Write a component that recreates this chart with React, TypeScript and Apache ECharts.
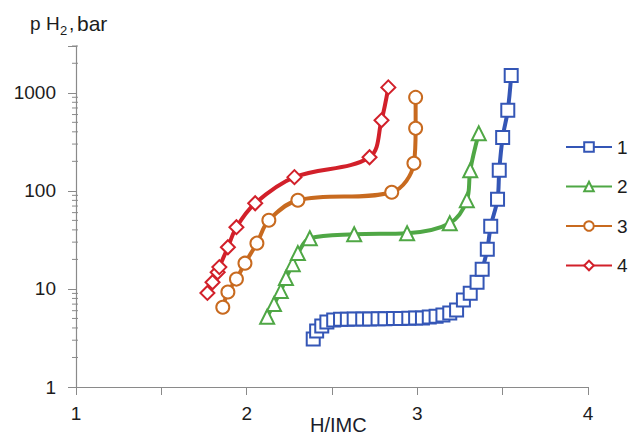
import React, { useEffect, useRef } from "react";
import * as echarts from "echarts";

const seriesNames = ["1", "2", "3", "4"];
const seriesColors = ["#3456b6", "#4fa745", "#c86a1f", "#d2202a"];
const seriesSymbols = ["rect", "triangle", "circle", "diamond"];

const s1X = [2.39, 2.41, 2.44, 2.47, 2.51, 2.55, 2.59, 2.63, 2.68, 2.72, 2.77, 2.81, 2.86, 2.9, 2.95, 2.99, 3.03, 3.07, 3.11, 3.15, 3.19, 3.23, 3.27, 3.31, 3.35, 3.38, 3.41, 3.43, 3.47, 3.48, 3.5, 3.53, 3.55];
const s1Y = [3.08, 3.72, 4.18, 4.59, 4.81, 4.9, 4.92, 4.93, 4.94, 4.95, 4.96, 4.97, 4.99, 5.0, 5.02, 5.04, 5.06, 5.16, 5.28, 5.41, 5.67, 6.08, 7.69, 9.06, 11.7, 15.9, 25.4, 43.6, 82.1, 162, 351, 662, 1504];

const s2X = [2.12, 2.16, 2.2, 2.23, 2.27, 2.3, 2.37, 2.63, 2.94, 3.19, 3.29, 3.31, 3.36];
const s2Y = [5.2, 7.0, 9.5, 12.9, 17.9, 23.2, 32.9, 36.1, 37.0, 46.8, 80, 162, 386];

const s3X = [1.86, 1.89, 1.94, 1.99, 2.06, 2.13, 2.3, 2.85, 2.98, 2.99, 2.99];
const s3Y = [6.5, 9.3, 12.6, 18.3, 29.3, 50.2, 80.2, 96.8, 191, 434, 898];

const s4X = [1.77, 1.8, 1.83, 1.84, 1.89, 1.94, 2.05, 2.28, 2.72, 2.79, 2.83];
const s4Y = [9.1, 11.7, 14.8, 16.7, 26.6, 42.6, 74.8, 138, 220, 524, 1135];

const xTickLabels = [1, 2, 3, 4];
const yTickLabels = [1, 10, 100, 1000];
const yMinorTicks = [2, 3, 4, 5, 6, 7, 8, 9, 20, 30, 40, 50, 60, 70, 80, 90, 200, 300, 400, 500, 600, 700, 800, 900, 2000, 3000];

const FONT = "'Liberation Sans', Arial, sans-serif";
const AXIS_COLOR = "#8a8a8a";
const TEXT_COLOR = "#1c1c1c";

function zip(xs: number[], ys: number[]) {
  return xs.map((x, i) => [x, ys[i]]);
}

export default function App() {
  const ref = useRef<HTMLDivElement>(null);
  useEffect(() => {
    const chart = echarts.init(ref.current!, null, { renderer: "svg" });
    const allX = [s1X, s2X, s3X, s4X];
    const allY = [s1Y, s2Y, s3Y, s4Y];
    const symbolSizes = [13, 14, 13, 14];
    const lineSeries = seriesNames.map((name, i) => ({
      name,
      type: "line",
      data: zip(allX[i], allY[i]),
      smooth: 0.35,
      symbol: seriesSymbols[i],
      symbolSize: symbolSizes[i],
      showAllSymbol: true,
      lineStyle: { color: seriesColors[i], width: 4 },
      itemStyle: { color: "#ffffff", borderColor: seriesColors[i], borderWidth: 2 },
      emphasis: { disabled: true },
      z: 3 + i,
    }));
    const titleStyle = { fontSize: 19, fontFamily: FONT, fill: TEXT_COLOR };
    chart.setOption({
      animation: false,
      backgroundColor: "#ffffff",
      grid: { left: 76, right: 45, top: 46, bottom: 49 },
      xAxis: {
        type: "value",
        min: 1,
        max: 4,
        interval: 0.5,
        axisLine: { show: true, lineStyle: { color: AXIS_COLOR, width: 1.2 } },
        axisTick: { show: true, inside: false, length: 8, lineStyle: { color: AXIS_COLOR } },
        splitLine: { show: false },
        axisLabel: {
          margin: 17,
          fontSize: 19,
          fontFamily: FONT,
          color: TEXT_COLOR,
          formatter: (v: number) => (xTickLabels.some((t) => Math.abs(t - v) < 1e-6) ? String(Math.round(v)) : ""),
        },
      },
      yAxis: {
        type: "log",
        logBase: 10,
        min: 1,
        max: 3000,
        axisLine: { show: true, lineStyle: { color: AXIS_COLOR, width: 1.2 } },
        axisTick: { show: true, inside: false, length: 8, lineStyle: { color: AXIS_COLOR } },
        splitLine: { show: false },
        axisLabel: {
          margin: 20,
          fontSize: 19,
          fontFamily: FONT,
          color: TEXT_COLOR,
          formatter: (v: number) => {
            const t = yTickLabels.find((k) => Math.abs(k - v) / k < 1e-6);
            return t !== undefined ? String(t) : "";
          },
        },
      },
      legend: {
        orient: "vertical",
        left: 565,
        top: 137,
        padding: 0,
        itemWidth: 46,
        itemHeight: 12,
        itemGap: 19.5,
        selectedMode: false,
        data: seriesNames,
        textStyle: { fontSize: 19, fontFamily: FONT, color: TEXT_COLOR, lineHeight: 20 },
      },
      graphic: [
        { type: "text", left: 30, top: 14, style: { text: "p", ...titleStyle } },
        { type: "text", left: 46, top: 14, style: { text: "H", ...titleStyle } },
        { type: "text", left: 60, top: 24, style: { text: "2", fontSize: 13, fontFamily: FONT, fill: TEXT_COLOR } },
        { type: "text", left: 69, top: 14, style: { text: ",", ...titleStyle } },
        { type: "text", left: 77, top: 13, style: { text: "bar", fontSize: 21, fontFamily: FONT, fill: TEXT_COLOR } },
        { type: "text", left: 310, top: 415, style: { text: "H/IMC", fontSize: 20, fontFamily: FONT, fill: "#1a1d2b" } },
      ],
      series: [
        {
          type: "custom",
          silent: true,
          clip: false,
          z: 1,
          data: yMinorTicks.map((v) => [1, v]),
          renderItem: (params: any, api: any) => {
            const p = api.coord([api.value(0), api.value(1)]);
            return {
              type: "line",
              shape: { x1: p[0] - 4, y1: p[1], x2: p[0] + 2, y2: p[1] },
              style: { stroke: AXIS_COLOR, lineWidth: 1 },
            };
          },
        },
        ...lineSeries,
      ],
    });
    return () => chart.dispose();
  }, []);
  return (
    <div
      ref={ref}
      style={{ position: "fixed", left: 0, top: 0, width: 633, height: 436, background: "#ffffff" }}
    />
  );
}
